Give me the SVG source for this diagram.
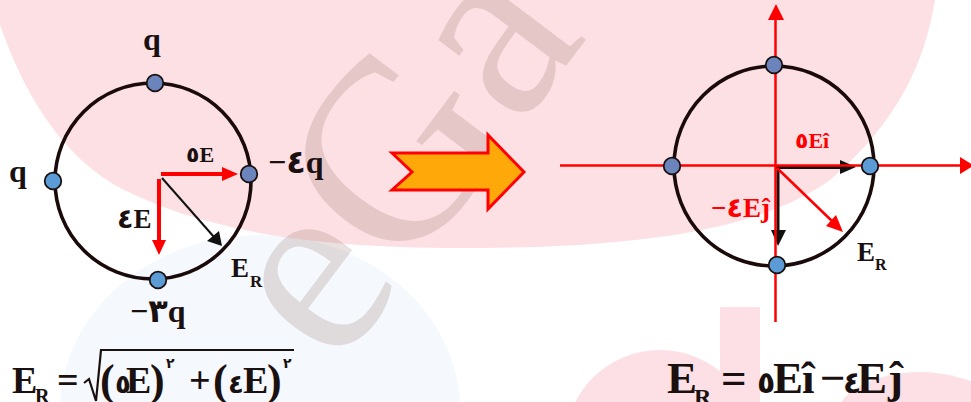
<svg xmlns="http://www.w3.org/2000/svg" width="971" height="402" viewBox="0 0 971 402">
<style>
.t{font-family:"Liberation Serif","DejaVu Sans",serif;font-weight:bold;fill:#1a1010}
.r{fill:#ff0000}
.circ{fill:none;stroke:#1a0a0a;stroke-width:3.6}
.dotA{fill:#6b84bb;stroke:#1a1010;stroke-width:1.8}
.dotB{fill:#5b9bd6;stroke:#1a1010;stroke-width:1.8}
.redl{stroke:#ff0000;fill:none}
.blkl{stroke:#111;fill:none}
.wm{fill:#fde0e5}
</style>
<!-- watermark background -->
<g id="watermark">
<rect width="971" height="402" fill="#ffffff"/>
<ellipse cx="260" cy="410" rx="200" ry="175" fill="#f5f8fc"/>
<path d="M0,0 L935,0 C925,60 900,120 830,180 C760,230 640,248 460,248 C300,248 200,228 120,188 C70,160 30,110 0,25 Z" fill="#fde0e4"/>
<rect class="wm" x="720" y="307" width="40" height="95"/>
<circle class="wm" cx="660" cy="445" r="95"/>
<ellipse class="wm" cx="920" cy="420" rx="85" ry="48"/>
<text x="0" y="0" transform="translate(462,204) rotate(-53)" text-anchor="middle" font-family="Liberation Serif,serif" font-size="260" fill="#785040" fill-opacity="0.17">eGa</text>
</g>
<!-- left figure -->
<g id="left-circle"><ellipse class="circ" cx="153" cy="181" rx="98" ry="98"/></g>
<g id="connectors">
<line class="redl" x1="161" y1="174" x2="223" y2="174" stroke-width="4"/>
<polygon points="222,167 238,174 222,181" fill="#ff0000"/>
<line class="redl" x1="159" y1="179" x2="159" y2="241" stroke-width="4"/>
<polygon points="152,240 159,255 166,240" fill="#ff0000"/>
<line class="blkl" x1="162" y1="178" x2="214" y2="237" stroke-width="2"/>
<polygon points="207,241 222,246 219,231" fill="#111"/>
<!-- right figure axes and vectors -->
<line class="blkl" x1="776" y1="167.5" x2="842" y2="167.5" stroke-width="3"/>
<polygon points="840,160 856,167 840,174" fill="#111"/>
<line class="blkl" x1="778" y1="167" x2="778" y2="232" stroke-width="3"/>
<polygon points="771,230 778,246 786,230" fill="#111"/>
<line class="redl" x1="560" y1="165.5" x2="962" y2="165.5" stroke-width="2.5"/>
<polygon points="960,157 974,165.5 960,174" fill="#ff0000"/>
<line class="redl" x1="775.5" y1="18" x2="775.5" y2="322" stroke-width="2.5"/>
<polygon points="768,20 776,4 784,20" fill="#ff0000"/>
<line class="redl" x1="777" y1="168" x2="833" y2="222" stroke-width="2.5"/>
<polygon points="826,226 843,232 836,215" fill="#ff0000"/>
</g>
<g id="right-circle"><ellipse class="circ" cx="774" cy="166" rx="100" ry="100"/></g>
<g id="dots">
<circle class="dotA" cx="155" cy="83" r="8.3"/>
<circle class="dotB" cx="53" cy="181" r="8.3"/>
<circle class="dotA" cx="249" cy="174" r="8.3"/>
<circle class="dotB" cx="158" cy="280" r="8.3"/>
<circle class="dotA" cx="774" cy="65" r="8.3"/>
<circle class="dotA" cx="672" cy="166" r="8.3"/>
<circle class="dotB" cx="870" cy="166" r="8.3"/>
<circle class="dotB" cx="777" cy="265" r="8.3"/>
</g>
<g id="left-labels">
<text class="t" x="152" y="50" font-size="32" text-anchor="middle">q</text>
<text class="t" x="9" y="182" font-size="32">q</text>
<text class="t" x="268" y="173" font-size="32">−٤q</text>
<text class="t" x="130" y="322" font-size="32">−٣q</text>
<text class="t" x="186" y="162" font-size="22">٥E</text>
<text class="t" x="117" y="228" font-size="27">٤E</text>
<text class="t" x="231" y="277" font-size="27">E</text>
<text class="t" x="250" y="287" font-size="17">R</text>
</g>
<g id="arrow">
<polygon points="392,153 412,172 392,190 488,190 488,209 524,172 488,135 488,153" fill="#ffa80a" stroke="#ff0000" stroke-width="3"/>
</g>
<g id="right-labels">
<text class="t r" x="795" y="148" font-size="22">٥Eî</text>
<text class="t r" x="711" y="217" font-size="27">−٤Eĵ</text>
<text class="t" x="857" y="261" font-size="27">E</text>
<text class="t" x="875" y="270" font-size="16">R</text>
</g>
<g id="formula-left">
<text class="t" font-size="38"><tspan x="12" y="393">E</tspan><tspan x="35" y="403" font-size="20">R</tspan><tspan x="57" y="393">=</tspan><tspan x="100" y="395" font-size="44">(</tspan><tspan x="115" y="393" font-size="26">٥</tspan><tspan x="126" y="393">E</tspan><tspan x="150" y="395" font-size="44">)</tspan><tspan x="166" y="368" font-size="14">٢</tspan><tspan x="189" y="393">+</tspan><tspan x="213" y="395" font-size="44">(</tspan><tspan x="228" y="393" font-size="26">٤</tspan><tspan x="243" y="393">E</tspan><tspan x="267" y="395" font-size="44">)</tspan><tspan x="283" y="368" font-size="14">٢</tspan></text>
<path d="M84,383 L89,379 L96,401 L101,350 L294,350" fill="none" stroke="#1a1010" stroke-width="2.2"/>
</g>
<g id="formula-right">
<text class="t" font-size="45"><tspan x="667" y="393">E</tspan><tspan x="694" y="405" font-size="24">R</tspan><tspan x="721" y="393">=</tspan><tspan x="757" y="393" font-size="30">٥</tspan><tspan x="773" y="393">E</tspan><tspan x="802" y="393">î</tspan><tspan x="820" y="393">−</tspan><tspan x="843" y="393" font-size="30">٤</tspan><tspan x="857" y="393">E</tspan><tspan x="888" y="393">ĵ</tspan></text>
</g>
</svg>
